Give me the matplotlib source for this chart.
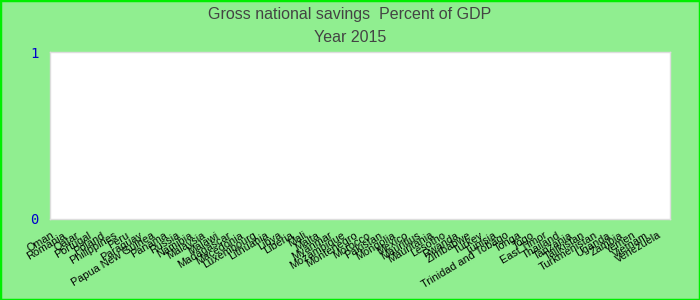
import matplotlib
matplotlib.use("Agg")
import matplotlib.pyplot as plt
import matplotlib.transforms as mtransforms
from matplotlib.patches import Rectangle

countries = ["Oman", "Romania", "Qatar", "Portugal", "Poland", "Philippines", "Peru",
             "Paraguay", "Papua New Guinea", "Panama", "Russia", "Namibia", "Malaysia",
             "Malawi", "Madagascar", "Macedonia", "Luxembourg", "Lithuania", "Libya",
             "Liberia", "Mali", "Malta", "Myanmar", "Mozambique", "Montenegro", "Morocco",
             "Pakistan", "Mongolia", "Mexico", "Mauritius", "Mauritania", "Lesotho",
             "Rwanda", "Zimbabwe", "Turkey", "Tunisia", "Trinidad and Tobago", "Tonga",
             "Togo", "East Timor", "Thailand", "Tanzania", "Tajikistan", "Turkmenistan",
             "Uganda", "Zambia", "Yemen", "Vietnam", "Venezuela"]
values = [0] * len(countries)
yticks = [0, 1]

plt.rcParams['font.family'] = ['Liberation Sans', 'DejaVu Sans']
fig = plt.figure(figsize=(7, 3), dpi=100, facecolor='#90EE90')
ax = fig.add_axes([50/700, 1 - 219/300, 620/700, 167/300])
ax.set_facecolor('white')
x = list(range(len(countries)))
ax.bar(x, values, width=0.8, color='#4472C4')
ax.set_xlim(-0.5, len(countries) - 0.5)
ax.set_ylim(0, 1)
ax.set_yticks(yticks)
ax.set_yticklabels([str(v) for v in yticks], color='#0000CC', fontsize=10, family='DejaVu Sans Mono')
ax.tick_params(axis='y', length=0, pad=8)
ax.set_xticks(x)
ax.set_xticklabels(countries, rotation=31, ha='right', rotation_mode='anchor',
                   fontsize=7.8, color='black')
ax.tick_params(axis='x', length=0, pad=3)
offset = mtransforms.ScaledTranslation(-6/100, -7/100, fig.dpi_scale_trans)
for lab in ax.get_xticklabels():
    lab.set_transform(lab.get_transform() + offset)
for s in ax.spines.values():
    s.set_color('#DDDDDD')
    s.set_linewidth(1)

fig.text(0.5, 1 - 14/300, "Gross national savings  Percent of GDP", ha='center', va='center',
         fontsize=11.5, color='#444444')
fig.text(0.5, 1 - 37/300, "Year 2015", ha='center', va='center', fontsize=11.5,
         color='#444444')
fig.patches.append(Rectangle((0, 0), 1, 1, transform=fig.transFigure, fill=False,
                             edgecolor='#00EE00', linewidth=2.5, zorder=10))
fig.savefig("out.png", dpi=100, facecolor=fig.get_facecolor())
